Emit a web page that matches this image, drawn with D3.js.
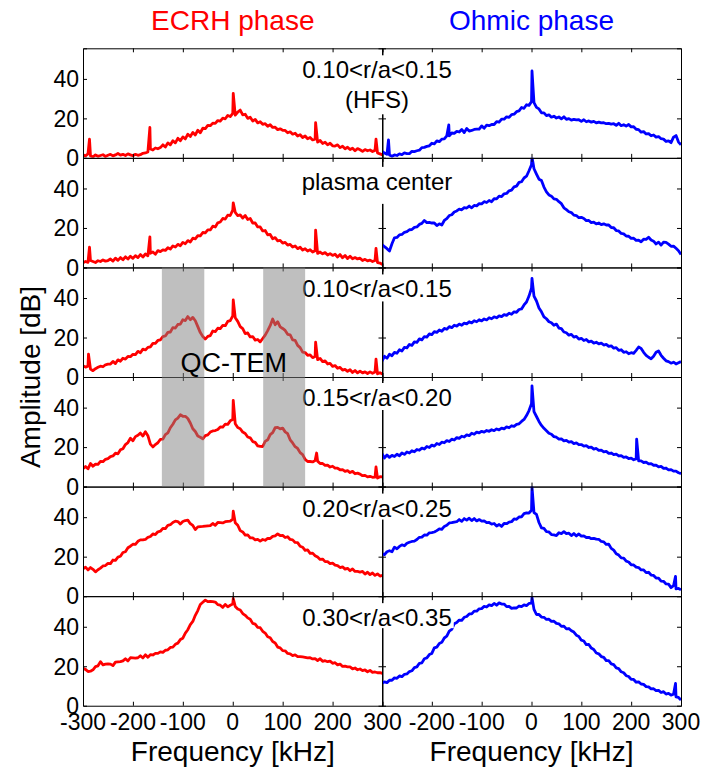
<!DOCTYPE html>
<html><head><meta charset="utf-8">
<script src="https://cdn.jsdelivr.net/npm/d3@7"></script>
<style>
body{margin:0;background:#fff}
svg{display:block}
text{font-family:"Liberation Sans",Arial,Helvetica,sans-serif}
</style>
</head><body>
<svg id="chart" width="702" height="774"></svg>
<script>
// ---------------- data ----------------
const freqs = d3.range(-300, 301, 5);   // sample frequencies [kHz]
const xTicks = [-300, -200, -100, 0, 100, 200, 300];
const yTicks = [0, 20, 40];
const columnTitles = ["ECRH phase", "Ohmic phase"];
const panelLabels = [["0.10<r/a<0.15", "(HFS)"], ["plasma center"], ["0.10<r/a<0.15"], ["0.15<r/a<0.20"], ["0.20<r/a<0.25"], ["0.30<r/a<0.35"]];
const qcBands = [[-142, -57], [61, 145]];
const qcLabel = "QC-TEM";

const ecrh1 = [1.5,1,2,1,0.5,1.5,0.8,1.2,1.6,0.7,1.3,
1.8,1,1.5,2.2,1.4,1.8,1.2,2,1.5,1.1,
1.8,1.3,1.6,2.3,2.5,3,4.5,4,5,4.6,
5.2,6.6,5.5,7.6,6.6,8.7,7.6,9.9,8.7,10.6,
9.6,12,10.8,12.9,11.6,14,12.7,15,14.8,16.5,
16.3,17.6,17.5,18.9,18.6,20.1,19.8,21.5,20.9,22.5,
21.6,23.2,24.2,21.8,22.1,20,20.6,18.7,19.5,17.7,
18.3,17,17.3,16,16.8,15.4,15.5,14.3,14.7,14,
13.9,12.7,13.2,12,12.5,11.1,11.7,10.3,11.1,9.7,
10.3,9.1,9.5,8,8.8,7.3,7.9,6.6,7.4,6.1,
6,6.6,5.2,5.9,4.6,5.4,4.2,4.9,3.6,4.7,
4.1,3.3,4.2,3.6,4,3.2,3.8,2.5,2,1.5];
const ecrhSpikes1 = [[-287, 9.5], [-166, 15.4], [1, 32.7], [166, 17.9], [287, 9.5]];

const ecrh2 = [2.4,3,2.6,3.5,3,2.5,3.4,3,3.8,3.2,3.5,
4.3,3.2,4.7,3.6,5,3.9,5.4,4.3,5.7,4.6,
6,5,6.5,5.3,6.8,5.9,7.2,7.8,6.7,8.5,
8,8.9,8.6,10,9.3,10.9,10.3,11.7,11,12.7,
12,13.6,12.9,14.8,14.5,16.1,16,17.7,17.5,19,
19,20.9,20.5,22.6,23,24.8,24.5,26.5,26.3,29,
27.9,26.3,26.6,25,26.3,24.3,24.8,22.5,22.5,20.5,
20.5,18.5,18.7,16.5,16.7,14.5,15.1,13.5,13.7,12.3,
12.7,11.3,11.7,10.3,10.9,9.5,10.2,8.8,9.5,8.3,
9,7.8,8.5,7.1,7.8,6.9,7.5,6.3,7,6.1,
6.7,5.3,6.5,4.9,6.1,4.5,5.7,4.4,5,4.3,
4.7,3.5,4.1,3.3,3.7,3,3.5,2.4,2.2,1.5];
const ecrhSpikes2 = [[-287, 10.3], [-166, 15.5], [1, 32.7], [166, 18.9], [287, 9.6]];

const ecrh3 = [5.7,5,5.5,4,3.2,4.2,4.9,5.5,5.2,6.2,6.5,
6.6,7.9,6.8,8.7,8,9.5,9.1,10.4,10.3,11.5,
11.3,13,12.3,14.1,13.7,15,15.3,17,17,18.5,
18.8,20.5,20.8,22.6,22.8,25,24.8,26.6,26.8,29,
28.6,30.6,29,30.2,28.5,25.5,22.5,20.5,19.2,20.6,
21,23.3,23,24.7,24.5,26.1,26,28.2,28.6,31,
30,28.2,25.5,24.5,22,22.3,20.3,20.5,18.7,19,
17.8,19.5,21.2,23.5,26,29.4,26.5,28,25.4,24.6,
23.6,21.6,21.4,18.8,18.6,16,14.9,12.6,12.4,11,
11.2,9.8,10.4,8.8,9.4,7.8,8.2,6.6,6.9,5.4,
5.8,4.4,4.9,3.5,3.9,2.9,3.7,2.3,3.3,2.1,
3,2.1,2.6,1.8,2.6,1.9,2.5,1.6,2.2,1.5];
const ecrhSpikes3 = [[-289, 11.6], [1, 39], [166, 17.6], [287, 9.1]];

const ecrh4 = [9.1,10.2,9,11.7,10.3,11.4,11.2,12.8,12.6,13.8,14.2,
15.2,15.5,16.9,16.6,18.6,19.2,21.3,22.3,24.5,23.2,
25.3,26,27.1,25.6,27.8,25.8,21.5,20.1,21.3,22.2,
23.9,24,26.3,27.2,29.8,31.6,33.8,34.7,36.4,35.6,
35.6,34.5,32.2,29.3,27.9,25.6,25,24.2,25.8,26.2,
27.6,28.2,28.4,28.9,30.2,30.1,31.6,31.5,33.3,34,
31.8,29.9,29.3,27.6,26.9,25.1,24.7,22.8,22.4,20.6,
20.4,20.3,22.9,23.7,26.3,27.3,29.8,30,29.2,29.6,
27.7,26.8,23.7,22.1,20.2,19.3,17.2,16.2,13.8,12.7,
12.7,12.5,13.2,12.9,11.7,11.7,10.7,10.9,9.9,10.3,
9.3,9.3,8.5,8.6,7.7,8.1,7.1,7.7,6.5,6.8,
6.3,5.5,5.7,4.9,5.2,4.7,4.8,4.3,5,4.9];
const ecrhSpikes4 = [[1, 43.7], [168, 17], [287, 10]];

const ecrh5 = [13.8,14.7,13.3,14.5,13.6,12.3,13.4,14.2,15.3,15.5,16.6,
16.5,18.3,18.1,19.8,20.2,22.1,22.5,24.5,25.3,26.3,
26.2,27.8,28.5,28.5,28.7,29.8,30.2,31.5,31.2,32.6,
32.9,34.3,34.2,35.9,36.2,37.3,38,37.8,36.5,37.8,
38.3,38.5,36.7,35.8,33.7,35.1,35.2,35.3,35.5,35.6,
35.7,36.8,35.9,37.3,37.2,37.1,37.7,37.9,38,39,
37.2,35.9,33.2,32.5,30.9,31,29.5,29.5,28.5,28.8,
27.9,28.7,28.3,29.3,29.2,30.3,30.5,31.5,30.7,30.8,
29.7,30.1,28.7,28.5,27.2,27.1,25.3,24.8,23.2,23.4,
21.7,21.8,20.5,19.8,18.6,18.8,17.5,17.5,16.5,16.7,
15.7,15.5,14.5,14.8,13.7,14.1,12.9,13.8,12.5,12.5,
12.2,12.5,11.2,12.1,10.9,11.7,10.5,11.3,10.2,10.5];
const ecrhSpikes5 = [[1, 43]];

const ecrh6 = [18.9,18.4,17.3,17.5,18.2,19.8,20.2,22.3,20.7,21.1,21.2,
21.1,20.3,22.1,22.2,22.3,22.7,23.8,22.7,24.3,24.2,
24.1,24.3,25.3,24.2,25.8,24.5,25.9,25.7,26.5,26.5,
27.3,27,28.1,28.3,29.5,29.7,31.1,31.7,33.5,34.2,
36.8,38.5,41.1,42.7,45.8,48.2,51.3,52.4,53.5,52.7,
52.9,52.7,52.5,51.2,50.9,49.8,51.3,50.1,50.9,51.5,
50.3,49,48.5,46.7,45.8,44.5,43.8,41.7,41.3,39.7,
39.5,37.7,36.8,34.9,34.4,32.5,31.8,29.7,29.3,27.9,
27.8,26.5,26.3,25.4,25.8,24.9,24.9,24.7,24.5,24.2,
24.3,23.7,23.8,22.9,23.8,22.5,22.8,22.3,22.6,21.5,
21.8,20.7,21.1,19.9,20,19.7,19.7,18.7,19.1,18.2,
18.6,17.8,18.1,17.2,17.9,16.9,17.1,16.7,16.8,16.4];
const ecrhSpikes6 = [[1, 54.3]];

const ohmic1 = [3.2,2.5,1.8,1.5,0.8,1.5,1.2,2,1.6,2.5,2.2,
2.1,3.3,3.2,3.6,3.9,5.2,5.3,5.8,6.1,7.4,
7.1,8.6,8.2,9.5,9.6,11.2,11.1,12.6,12.4,13.4,
13.1,14.4,12.8,14.9,13.6,13.9,14.4,14.6,14.6,16.2,
15,16.6,16.3,16.9,16.9,18.4,18.1,19.6,19.6,20.8,
20.5,21.9,22.1,23.4,23.8,25.5,25.1,26.9,26.6,28.5,
28,25.6,24.8,22.8,22.8,21.4,21.8,20.6,21.1,20.2,
20.7,19.8,20.8,19.5,19.9,19.1,19.5,19.2,19.3,18.5,
19.3,18.3,18.7,18.1,18.5,17.7,18.1,17.7,17.8,17.3,
17.5,17.1,17.3,16.5,17.5,16.3,16.8,16.1,16.9,15.7,
15.8,14.5,14.3,13,13.3,12.1,12.3,11.2,11.6,10.5,
10.8,9.7,9.5,8.3,8.6,7.7,10.5,11.3,8,6.6];
const ohmicSpikes1 = [[-287, 9.1], [-166, 16.7], [1, 44]];

const ohmic2 = [11.6,10.5,9.5,8.3,12,15,15.2,16.5,16.7,17.8,18.1,
19.1,19.2,20.3,20.5,21.8,22.3,23.8,22.7,22.8,22.5,
22.5,21.2,22.1,21.5,23.8,24.7,26.3,26.7,28.1,28.6,
29.5,29.2,30.3,30.1,31.1,30.2,31.4,31.2,32.3,32.2,
33.3,32.9,33.9,33.3,34.8,34.7,36.1,35.9,37.3,37.5,
38.8,39.2,40.8,41.2,43.1,43.4,45.3,46.2,49,52,
50,47.3,44.7,44,40.7,38.3,36.7,36.1,34.7,34.5,
33.3,32.3,30.2,29.3,28.2,27.8,26.5,26.3,25.2,25.4,
24.8,23.7,23.8,22.7,22.9,22.1,22.5,21.7,22.1,21.5,
21.5,20.2,20.1,18.7,18.5,17.2,17,15.9,15.8,14.7,
14.8,13.7,13.8,13,14.3,14.2,15.3,13.9,13.3,11.9,
12.8,11.3,12.8,12.7,11.8,10.7,10.8,9.7,8.5,6.6];
const ohmicSpikes2 = [[1, 56]];

const ohmic3 = [8,10.5,9.5,11.5,10.8,12.5,12,13.8,13.2,15,14.8,
16.5,16,17.8,17.5,19.3,18.8,20.5,20.2,21.8,21.5,
23,22.6,23.8,23.2,24.6,24.2,25.5,25,26.2,25.8,
26.8,26.2,27.3,26.9,28,27.4,28.5,28,29,28.4,
29.4,28.9,30,29.5,30.5,30,31,30.6,31.6,31.2,
32.3,31.8,33,32.8,34.2,34.5,36.5,38,41,45,
41,38.5,35,33,30.5,29.5,28,27.5,26.2,26.8,
24.8,24.5,22.8,22.4,21.2,21.6,20.2,20.6,19.2,19.6,
18.5,19,17.8,18.2,17.2,17.6,16.8,17.2,16.2,16.5,
15.5,15.8,14.6,14.9,13.5,13.8,12.5,12.8,11.8,12.3,
12,13.5,15.2,14.5,12.5,11,10,9.2,10.5,12.5,
13.2,11,9.5,8.2,7.8,7,7.5,6.6,7.2,7.8];
const ohmicSpikes3 = [[1, 50]];

const ohmic4 = [16.7,14.5,16,14.8,15.8,15.2,16.4,15.6,17,16.3,17.5,
17,18.2,17.6,18.8,18.4,19.5,19,20.3,19.8,21,
20.5,21.8,21.3,22.5,22.2,23.3,22.8,24,23.6,24.8,
24.4,25.5,25.1,26.2,25.8,27,26.5,27.6,27.2,28,
27.6,28.4,28,28.8,28.3,29.2,28.7,29.6,29.2,30.2,
29.8,30.8,30.5,31.5,31.8,33,34,36,38.5,42,
38,35.5,33,31,29.5,28.3,27,26.5,25.3,25,
24,24.2,23.2,23.4,22.5,22.8,21.8,22.1,21.2,21.3,
20.5,20.7,19.8,20,19,19.3,18.3,18.5,17.6,17.8,
16.8,17,16.2,16.4,15.5,15.7,14.8,15,14.2,14.4,
13.6,14,13,13,12.2,12.4,11.5,11.6,10.8,10.9,
10,10.2,9.2,9.4,8.5,8.6,7.8,7.8,7,6.6];
const ohmicSpikes4 = [[1, 51], [211, 24]];

const ohmic5 = [21.4,21,22.5,23,22.5,24.8,24,25.2,26,25.5,26.8,
27.3,27.7,27.9,28.7,29.8,29.9,31,30.9,32.1,32.2,
32.5,33.2,34.1,33.8,35.3,35.9,37.1,37.2,37.5,37.7,
38.8,37.9,39.3,38.5,39.5,38.3,39.3,38.1,38.8,38,
38.1,37.2,37.3,36.5,36.8,35.5,36.3,35.3,36.8,36.7,
37.5,37.7,39.1,38.9,40.1,40.2,41.8,42.2,42.1,43.5,
42.3,41.4,37.3,34.6,34.3,32.7,32.5,31.2,31,30.7,
32.1,31.7,32.7,31.7,31.9,30.7,31.7,30.5,31.5,30.4,
30.5,29.7,29.8,29.1,29.3,28.9,28.8,27.7,27.5,26.2,
26.3,24.2,23.3,21.5,20.8,19.4,19.3,17.7,17.3,15.9,
15.8,14.7,14.5,13.3,13.3,11.9,12.1,10.7,10.5,9.2,
9.1,7.6,7.5,6.2,6.1,4.3,5.3,3.7,3.9,3.2];
const ohmicSpikes5 = [[1, 55.2], [289, 10]];

const ohmic6 = [11.3,12.1,11.7,12.9,12.9,14.1,13.9,15.1,14.7,15.9,16.1,
17.3,17.7,19.3,19.7,21.5,21.7,23.8,24.2,25.9,26.5,
29.3,29.7,31.5,32.1,34.3,35.2,37.8,38.7,41.5,42.2,
43.4,43.2,44.8,45.2,46.5,46.5,47.9,47.9,49.1,49.2,
50.3,50,51.1,50.7,51.8,50.9,52.1,51.5,51.5,50.2,
50.3,49.3,49.6,49.5,50.5,50.2,51.1,50.7,51.8,52,
48.8,46.2,46.2,44.9,44.8,43.7,43.8,42.7,42.8,41.7,
41.5,40.2,40.3,38.9,39.1,38,37.3,35.7,35.1,33.2,
32.8,30.9,31,29.2,28.5,26.7,26.3,24.9,24.5,22.8,
22.8,21.2,20.8,19.2,18.8,17.2,16.7,15.2,14.8,13.3,
13.3,11.9,12.1,11,10.8,9.7,9.5,8.5,8.6,7.6,
7.8,6.7,7.1,5.9,6.3,5.4,5.8,4.5,4.2,2.9];
const ohmicSpikes6 = [[1, 54.8], [289, 11.3]];

const ecrhSeries = [ecrh1, ecrh2, ecrh3, ecrh4, ecrh5, ecrh6];
const ecrhSpikes = [ecrhSpikes1, ecrhSpikes2, ecrhSpikes3, ecrhSpikes4, ecrhSpikes5, ecrhSpikes6];
const ohmicSeries = [ohmic1, ohmic2, ohmic3, ohmic4, ohmic5, ohmic6];
const ohmicSpikes = [ohmicSpikes1, ohmicSpikes2, ohmicSpikes3, ohmicSpikes4, ohmicSpikes5, ohmicSpikes6];

// ---------------- layout ----------------
const svg = d3.select("#chart");
const TOP = 48.3, PH = 109.57, NROW = 6;
const cols = [
  {x0: 83, x1: 382.5, color: "#ff0000", series: ecrhSeries, spikes: ecrhSpikes},
  {x0: 382, x1: 681, color: "#0000ff", series: ohmicSeries, spikes: ohmicSpikes}
];
const yMax = 55.5;
const FONT_TICK = 23, FONT_LABEL = 24, FONT_AXIS = 28;

const defs = svg.append("defs");
function rowScale(r) {
  return d3.scaleLinear().domain([0, yMax]).range([TOP + (r + 1) * PH, TOP + r * PH]);
}

cols.forEach((c, ci) => {
  const x = d3.scaleLinear().domain([-300, 300]).range([c.x0, c.x1]);
  c.x = x;
  for (let r = 0; r < NROW; r++) {
    const y = rowScale(r);
    const cid = `clip-${ci}-${r}`;
    defs.append("clipPath").attr("id", cid).append("rect")
      .attr("x", c.x0).attr("y", y(yMax)).attr("width", c.x1 - c.x0).attr("height", y(0) - y(yMax));
    const pts = freqs.map((f, i) => [f, c.series[r][i]]).concat(c.spikes[r]).sort((a, b) => a[0] - b[0]);
    const line = d3.line().x(d => x(d[0])).y(d => y(d[1]));
    svg.append("path").attr("clip-path", `url(#${cid})`).datum(pts)
      .attr("d", line).attr("fill", "none").attr("stroke", c.color)
      .attr("stroke-width", 2.8).attr("stroke-linejoin", "round");

    const inner = 4;
    const frame = svg.append("g").attr("class", "frame");
    frame.append("g").attr("transform", `translate(0,${y(0)})`)
      .call(d3.axisBottom(x).tickValues(xTicks.slice(1, -1)).tickSize(-inner).tickFormat(""));
    frame.append("g").attr("transform", `translate(0,${y(yMax)})`)
      .call(d3.axisTop(x).tickValues(xTicks.slice(1, -1)).tickSize(-inner).tickFormat(""));
    frame.append("g").attr("transform", `translate(${c.x0},0)`)
      .call(d3.axisLeft(y).tickValues(yTicks.slice(1)).tickSize(-inner).tickFormat(""));
    frame.append("g").attr("transform", `translate(${c.x1},0)`)
      .call(d3.axisRight(y).tickValues(yTicks.slice(1)).tickSize(-inner).tickFormat(""));
    frame.selectAll(".domain").attr("stroke", "#000").attr("stroke-width", 1);
    frame.selectAll(".tick line").attr("stroke", "#000");

    if (ci === 0) {
      yTicks.forEach(v => {
        svg.append("text").attr("x", c.x0 - 4).attr("y", y(v)).attr("dy", "0.36em")
          .attr("text-anchor", "end").attr("font-size", FONT_TICK).text(v);
      });
    }
  }
  const yb = rowScale(NROW - 1)(0);
  const labs = ci === 0 ? xTicks : xTicks.slice(1);
  labs.forEach(v => {
    svg.append("text").attr("x", x(v)).attr("y", yb + 24).attr("text-anchor", "middle")
      .attr("font-size", FONT_TICK).text(v);
  });
  svg.append("text").attr("x", x(0)).attr("y", yb + 55).attr("text-anchor", "middle")
    .attr("font-size", FONT_AXIS).text("Frequency [kHz]");
  svg.append("text").attr("x", x(0)).attr("y", 30).attr("text-anchor", "middle")
    .attr("font-size", FONT_AXIS).attr("fill", c.color).text(columnTitles[ci]);
});

// panel labels with white background (hide right panel spine behind them)
const labelX = 377;
const baseOff = [30, 32, 30, 29, 30, 30];
const boxBottom = [6, 14, 4, 4, 3, 2];
panelLabels.forEach((lines, r) => {
  const y0 = rowScale(r)(yMax) + baseOff[r];
  const g = svg.append("g");
  const bg = g.append("rect").attr("fill", "#fff");
  const t = g.append("text").attr("text-anchor", "middle").attr("font-size", FONT_LABEL);
  lines.forEach((s, i) => {
    t.append("tspan").attr("x", labelX).attr("y", y0 + i * 30).text(s);
  });
  const bb = t.node().getBBox();
  const yBot = y0 + (lines.length - 1) * 30 + boxBottom[r];
  bg.attr("x", bb.x - 2).attr("y", bb.y - 1).attr("width", bb.width + 4).attr("height", yBot - (bb.y - 1));
});

// QC-TEM shaded bands (rows 3 and 4 of ECRH column)
const xl = cols[0].x;
qcBands.forEach(b => {
  svg.append("rect").attr("x", xl(b[0])).attr("y", rowScale(2)(yMax))
    .attr("width", xl(b[1]) - xl(b[0])).attr("height", rowScale(3)(0) - rowScale(2)(yMax))
    .attr("fill", "#808080").attr("fill-opacity", 0.5);
});
svg.append("text").attr("x", xl(2)).attr("y", rowScale(2)(0) - 5).attr("text-anchor", "middle")
  .attr("font-size", 27).text(qcLabel);

// y axis title
svg.append("text").attr("transform", `translate(40,${TOP + 3 * PH}) rotate(-90)`)
  .attr("text-anchor", "middle").attr("font-size", FONT_AXIS).text("Amplitude [dB]");
</script>
</body></html>
